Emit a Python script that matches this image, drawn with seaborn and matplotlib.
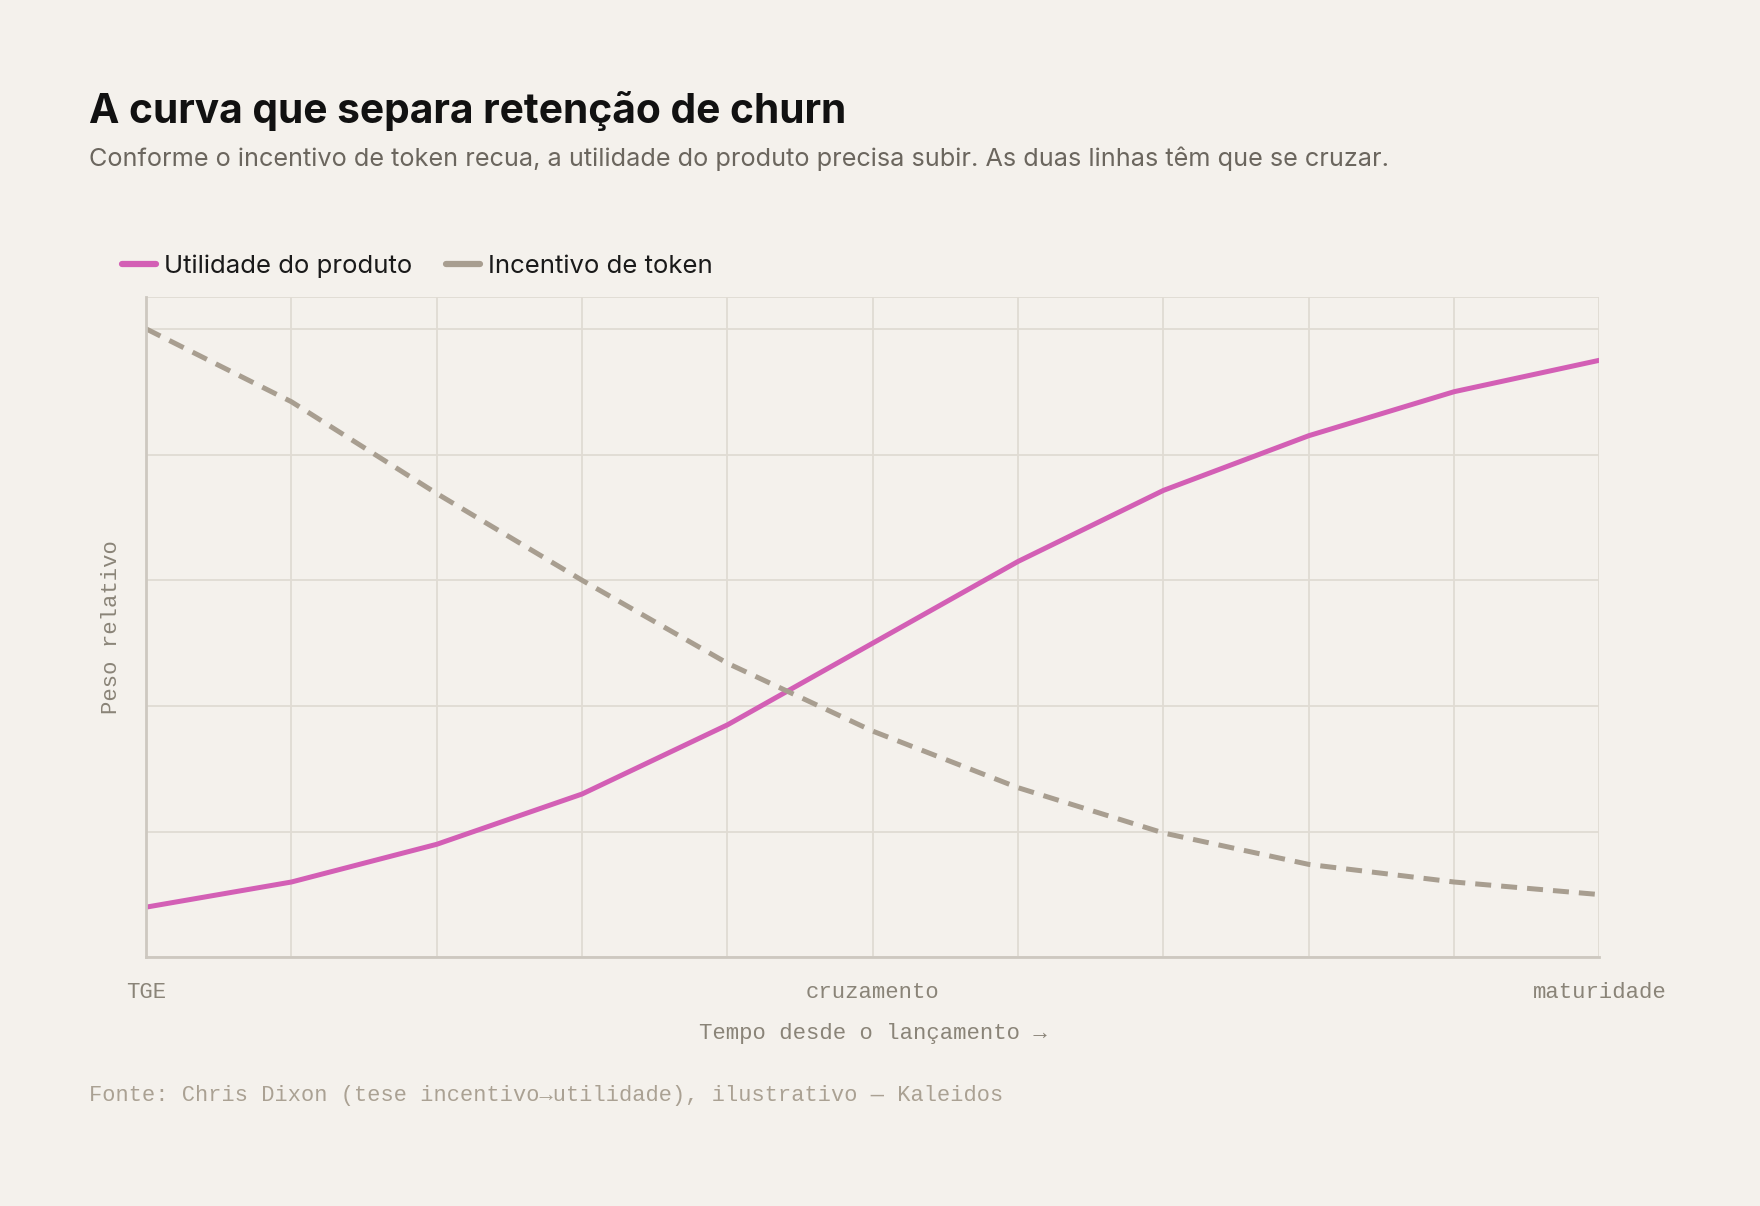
import matplotlib
matplotlib.use("Agg")
import matplotlib.pyplot as plt
import seaborn as sns
import pandas as pd

# valores (peso relativo, 0-100)
tempo = [0, 1, 2, 3, 4, 5, 6, 7, 8, 9, 10]
utilidade = [8.0, 12.0, 18.0, 26.0, 37.0, 50.0, 63.0, 74.3, 83.0, 90.0, 95.0]
incentivo = [100.0, 88.4, 73.8, 60.0, 46.8, 36.0, 27.0, 19.8, 14.8, 12.0, 10.0]
x_ticks = [0, 5, 10]
x_labels = ["TGE", "cruzamento", "maturidade"]
series_names = ["Utilidade do produto", "Incentivo de token"]

BG = "#f4f1ec"
PINK = "#d35fb5"
TAUPE = "#a89e90"
GRID = "#e0dbd3"
SPINE = "#cdc8c0"
MUTED = "#8a8478"
MONO = ["Liberation Mono", "DejaVu Sans Mono"]

sns.set_theme(style="white")
plt.rcParams["font.family"] = ["Inter", "DejaVu Sans"]

df = pd.DataFrame({
    "tempo": tempo * 2,
    "peso": utilidade + incentivo,
    "serie": [series_names[0]] * len(tempo) + [series_names[1]] * len(tempo),
})

fig = plt.figure(figsize=(17.6, 12.06), dpi=100, facecolor=BG)
ax = fig.add_axes([0.0830, 0.2061, 0.9088 - 0.0830, 0.7534 - 0.2061])
ax.set_facecolor(BG)

sns.lineplot(data=df, x="tempo", y="peso", hue="serie", style="serie",
             palette=[PINK, TAUPE], dashes=[(1, 0), (3.2, 2.0)],
             linewidth=3.6, ax=ax, legend=False)

ax.set_xlim(0, 10)
ax.set_ylim(0, 105)
ax.set_xticks(tempo)
ax.set_xticklabels([x_labels[x_ticks.index(t)] if t in x_ticks else "" for t in tempo],
                   family=MONO, fontsize=16, color=MUTED)
ax.set_yticks([0, 20, 40, 60, 80, 100, 105])
ax.set_yticklabels([])
ax.grid(True, color=GRID, linewidth=1.3)
ax.tick_params(axis="both", length=14, width=1.3, color=GRID, pad=4)
for s in ["top", "right"]:
    ax.spines[s].set_visible(False)
for s in ["left", "bottom"]:
    ax.spines[s].set_color(SPINE)
    ax.spines[s].set_linewidth(2)

ax.set_xlabel("Tempo desde o lançamento →", family=MONO, fontsize=16,
              color=MUTED, labelpad=14)
ax.set_ylabel("Peso relativo", family=MONO, fontsize=16, color=MUTED, labelpad=-1)

handles = [plt.Line2D([], [], color=PINK, linewidth=4.5),
           plt.Line2D([], [], color=TAUPE, linewidth=4.5)]
fig.legend(handles, series_names, loc="center left", bbox_to_anchor=(0.056, 0.779),
           frameon=False, fontsize=18.5, handlelength=1.35, handletextpad=0.3,
           columnspacing=1.3, ncol=2, labelcolor="#1a1a1a")

fig.text(0.0506, 0.898, "A curva que separa retenção de churn", fontsize=29.3,
         fontweight="bold", color="#111111", va="baseline")
fig.text(0.0506, 0.8624,
         "Conforme o incentivo de token recua, a utilidade do produto precisa subir. "
         "As duas linhas têm que se cruzar.",
         fontsize=18.2, color="#6b665e", va="baseline")
fig.text(0.0506, 0.0916,
         "Fonte: Chris Dixon (tese incentivo→utilidade), ilustrativo — Kaleidos",
         family=MONO, fontsize=15.8, color="#aaa193", va="center")

fig.savefig("out.png", dpi=100, facecolor=BG)
